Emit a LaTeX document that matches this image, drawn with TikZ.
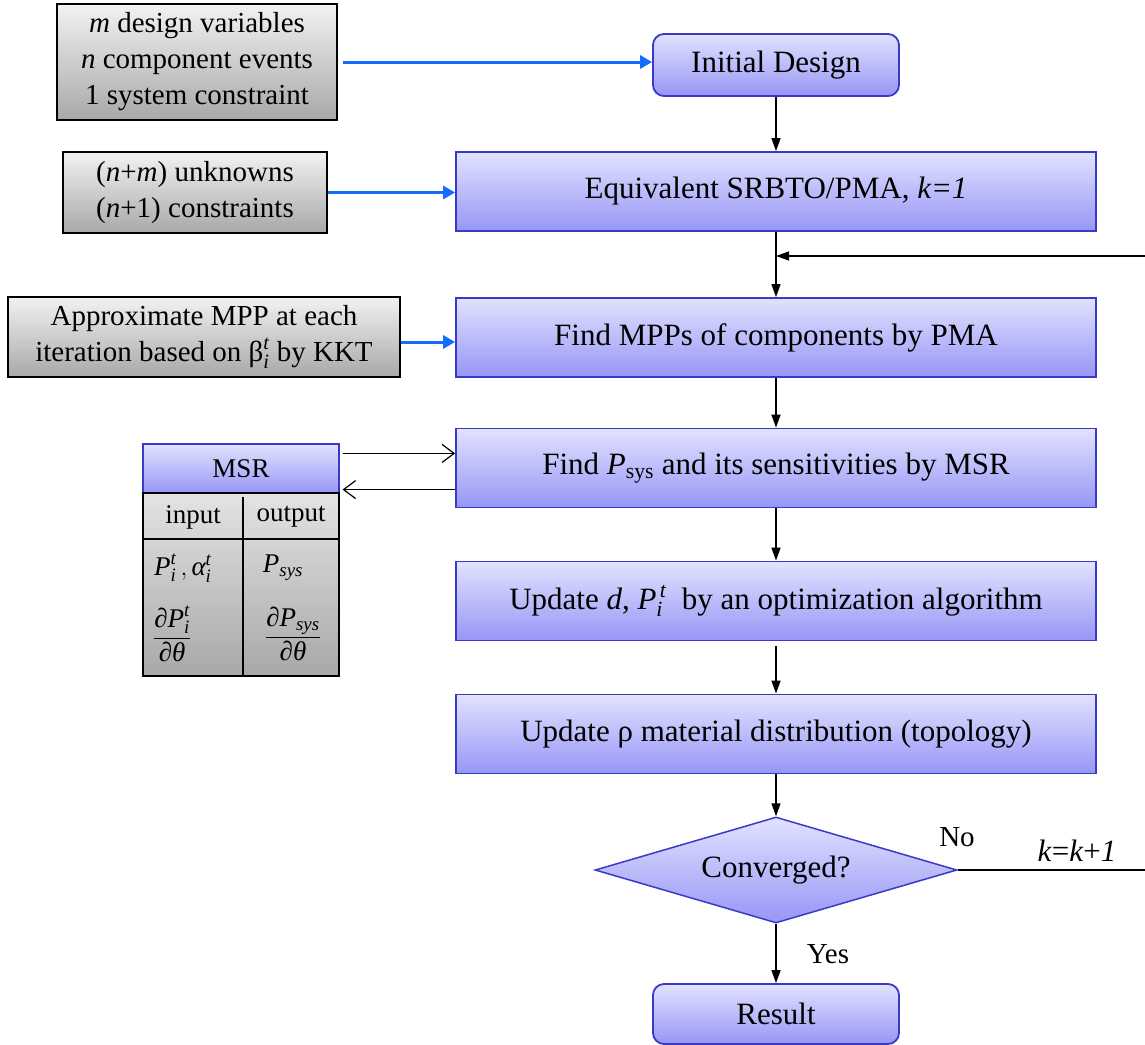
\documentclass[tikz,border=0pt]{standalone}
\usepackage{amsmath}
\usepackage{fontspec}
\setmainfont{Liberation Serif}
\usetikzlibrary{shapes.geometric,arrows.meta}
\definecolor{boxtop}{RGB}{226,226,255}
\definecolor{boxbot}{RGB}{150,150,246}
\definecolor{boxline}{RGB}{58,58,200}
\definecolor{graytop}{RGB}{242,242,242}
\definecolor{graybot}{RGB}{168,168,168}
\definecolor{feedblue}{RGB}{20,108,255}
\newcommand\iv[1]{\text{\itshape #1}}
\begin{document}
\begin{tikzpicture}[x=1pt,y=-1pt,
  stepbox/.style={draw=boxline, line width=1.8pt, top color=boxtop, bottom color=boxbot,
    minimum width=640pt, minimum height=79pt, inner sep=0pt,
    font=\fontsize{31}{36}\selectfont},
  roundbox/.style={stepbox, rounded corners=11pt, minimum width=246pt, minimum height=62pt},
  decision/.style={diamond, shape aspect=3.5, draw=boxline, line width=1.5pt,
    top color=boxtop, bottom color=boxbot, minimum width=362pt, minimum height=106pt,
    inner sep=0pt, font=\fontsize{31}{36}\selectfont},
  infobox/.style={draw=black, line width=1.2pt, top color=graytop, bottom color=graybot,
    inner sep=0pt, align=center, font=\fontsize{29}{36}\selectfont},
  flow/.style={-{Triangle[length=13pt,width=9pt]}, line width=1.4pt},
  feed/.style={-{Triangle[length=12pt,width=13pt]}, line width=3pt, draw=feedblue},
  exchange/.style={-{Straight Barb[length=12pt,width=18pt]}, line width=1.2pt},
  label/.style={inner sep=0pt, font=\fontsize{29}{34}\selectfont},
  cell/.style={inner sep=0pt, font=\fontsize{27}{32}\selectfont}]
\useasboundingbox (0,0) rectangle (1145,1044);

% main flow
\node[roundbox] (init) at (776,65) {Initial Design};
\node[stepbox] (eq) at (776,191.5) {Equivalent SRBTO/PMA, \textit{k=1}};
\node[stepbox] (mpp) at (776,337.5) {Find MPPs of components by PMA};
\node[stepbox] (psys) at (776,468) {Find $\iv{P}_{\text{sys}}$ and its sensitivities by MSR};
\node[stepbox] (upd) at (776,601) {Update \textit{d}, $\iv{P}_{\iv{i}}^{\,\iv{t}}$\ \ by an optimization algorithm};
\node[stepbox] (rho) at (776,734) {Update ρ material distribution (topology)};
\node[decision] (conv) at (776,870) {Converged?};
\node[roundbox, minimum height=60pt] (result) at (776,1014) {Result};

% side information
\node[infobox, minimum width=280pt, minimum height=116pt] (box1) at (197,62)
  {\textit{m} design variables\\ \textit{n} component events\\ 1 system constraint};
\node[infobox, minimum width=264pt, minimum height=81pt] (box2) at (195,192.5)
  {(\textit{n}+\textit{m}) unknowns\\ (\textit{n}+1) constraints};
\node[infobox, minimum width=392pt, minimum height=80pt] (box3) at (204,337)
  {Approximate MPP at each\\ iteration based on $\text{β}_{\iv{i}}^{\iv{t}}$ by KKT};

% MSR table
\node[stepbox, line width=1.2pt, minimum width=196pt, minimum height=49pt,
  font=\fontsize{27}{32}\selectfont] (msr) at (241,468.5) {MSR};
\node[infobox, minimum width=196pt, minimum height=183pt, top color=graytop!80!graybot]
  (msrbody) at (241,584.5) {};
\draw[line width=1.2pt] (243,497) -- (243,676);
\draw[line width=1.2pt] (143,539) -- (339,539);
\node[cell] (tin) at (193,517) {input};
\node[cell] (tout) at (291,517) {output};
\node[cell, anchor=west] (tpi) at (154,568) {$\iv{P}_{\iv{i}}^{\iv{t}}\,,\iv{α}_{\iv{i}}^{\iv{t}}$};
\node[cell, anchor=west] (tdpi) at (153,634) {$\dfrac{\text{∂}\iv{P}_{\iv{i}}^{\iv{t}}}{\text{∂}\iv{θ}}$};
\node[cell] (tps) at (283,568) {$\iv{P}_{\iv{sys}}$};
\node[cell] (tdps) at (293,634) {$\dfrac{\text{∂}\iv{P}_{\iv{sys}}}{\text{∂}\iv{θ}}$};

% connectors
\draw[flow] (init.south) -- (eq.north);
\draw[flow] (eq.south) -- (mpp.north);
\draw[flow] (mpp.south) -- (psys.north);
\draw[flow] (psys.south) -- (upd.north);
\draw[flow] ([yshift=-5pt]upd.south) -- (rho.north);
\draw[flow] (rho.south) -- (conv.north);
\draw[flow] (conv.south) -- (result.north);

\coordinate (loop) at (1160,256);
\draw[flow] (conv.east) -- (conv.east -| loop) -- (loop) -- (loop -| eq.south);

\draw[feed] ([xshift=5pt]box1.east) -- (box1.east -| init.west);
\draw[feed] (box2.east) -- (box2.east -| eq.west);
\draw[feed] ([yshift=-5pt]box3.east) -- ([yshift=-5pt]box3.east -| mpp.west);

\draw[exchange] ([xshift=3pt,yshift=-10pt]msr.north east) -- ([yshift=-10pt]msr.north east -| psys.west);
\draw[exchange] ([yshift=4pt]msr.south east -| psys.west) -- ([xshift=3pt,yshift=4pt]msr.south east);

% branch labels
\node[label] (no) at (957,837) {No};
\node[label] (yes) at (828,954) {Yes};
\node[inner sep=0pt, font=\fontsize{31}{36}\selectfont] (incr) at (1077,851) {\textit{k}=\textit{k}+\textit{1}};
\end{tikzpicture}
\end{document}
